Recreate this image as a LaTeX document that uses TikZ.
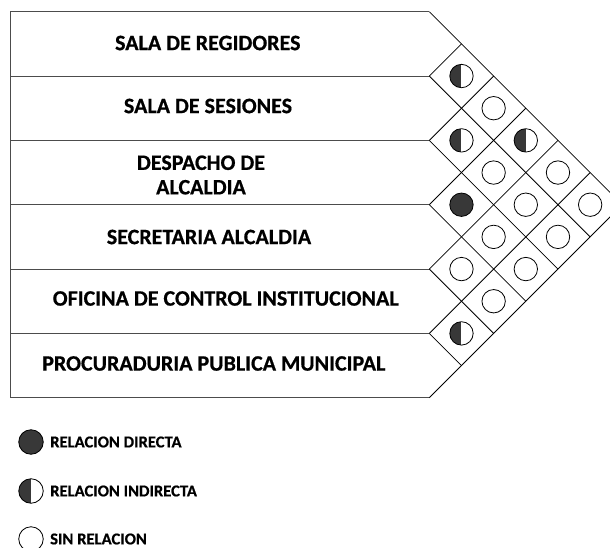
\documentclass[tikz,border=0pt]{standalone}
\usepackage{fontspec}
\setmainfont{Carlito}[BoldFeatures={FakeBold=0.6}]
\begin{document}
\begin{tikzpicture}[x=1pt,y=-1pt,
  rowline/.style={draw=black!70, line width=0.9pt},
  diag/.style={draw=black, line width=0.8pt},
  lbl/.style={font=\fontsize{22}{24.5}\selectfont\bfseries, align=center, inner sep=0pt},
  leg/.style={font=\fontsize{16.6}{19}\selectfont\bfseries, anchor=west, inner sep=0pt},
  cellc/.style={circle, draw=black, line width=0.8pt, minimum size=23.4pt, inner sep=0pt},
  nonec/.style={cellc, fill=white},
  fullc/.style={cellc, fill=black!78},
  halfc/.style={cellc, fill=white, path picture={\fill[black!78] (path picture bounding box.north) rectangle (path picture bounding box.south west);}},
]
\useasboundingbox (0,0) rectangle (610,548);
\clip (0,0) rectangle (610,548);
\def\XR{429.3}
\def\YT{11.7}
\def\HH{32.17}
% horizontal row lines and left edge
\foreach \k in {0,...,6}{
  \draw[rowline] (10,{\YT+2*\HH*\k}) -- (\XR,{\YT+2*\HH*\k});
}
\draw[rowline] (10,\YT) -- (10,{\YT+12*\HH});
% diagonals
\foreach \k in {0,...,6}{
  \draw[diag] (\XR,{\YT+2*\HH*\k}) -- ++({(6-\k)*\HH},{(6-\k)*\HH});
  \draw[diag] (\XR,{\YT+2*\HH*\k}) -- ++({\k*\HH},{-\k*\HH});
}
% labels
\node[lbl] (r1) at (207.8,43) {SALA DE REGIDORES};
\node[lbl] (r2) at (208,106) {SALA DE SESIONES};
\node[lbl] (r3) at (201,175) {DESPACHO DE\\ALCALDIA};
\node[lbl] (r4) at (209,237) {SECRETARIA ALCALDIA};
\node[lbl] (r5) at (225.7,298.5) {OFICINA DE CONTROL INSTITUCIONAL};
\node[lbl] (r6) at (213.8,363.5) {PROCURADURIA PUBLICA MUNICIPAL};
% relation cells
\foreach \i/\j/\t in {1/2/halfc,1/3/nonec,1/4/halfc,1/5/nonec,1/6/nonec,
                      2/3/halfc,2/4/nonec,2/5/nonec,2/6/nonec,
                      3/4/fullc,3/5/nonec,3/6/nonec,
                      4/5/nonec,4/6/nonec,
                      5/6/halfc}{
  \node[\t] (c\i\j) at ({\XR+\HH*(\j-\i)},{\YT+\HH*(\i+\j-1)}) {};
}
% legend
\node[fullc, minimum size=24.5pt] (lg1) at (31,442) {};
\node[leg] (lt1) at (50,442) {RELACION DIRECTA};
\node[halfc, minimum size=24.5pt] (lg2) at (31,491) {};
\node[leg] (lt2) at (50,491) {RELACION INDIRECTA};
\node[nonec, minimum size=24.5pt] (lg3) at (31,539) {};
\node[leg] (lt3) at (50,539) {SIN RELACION};
\end{tikzpicture}
\end{document}
